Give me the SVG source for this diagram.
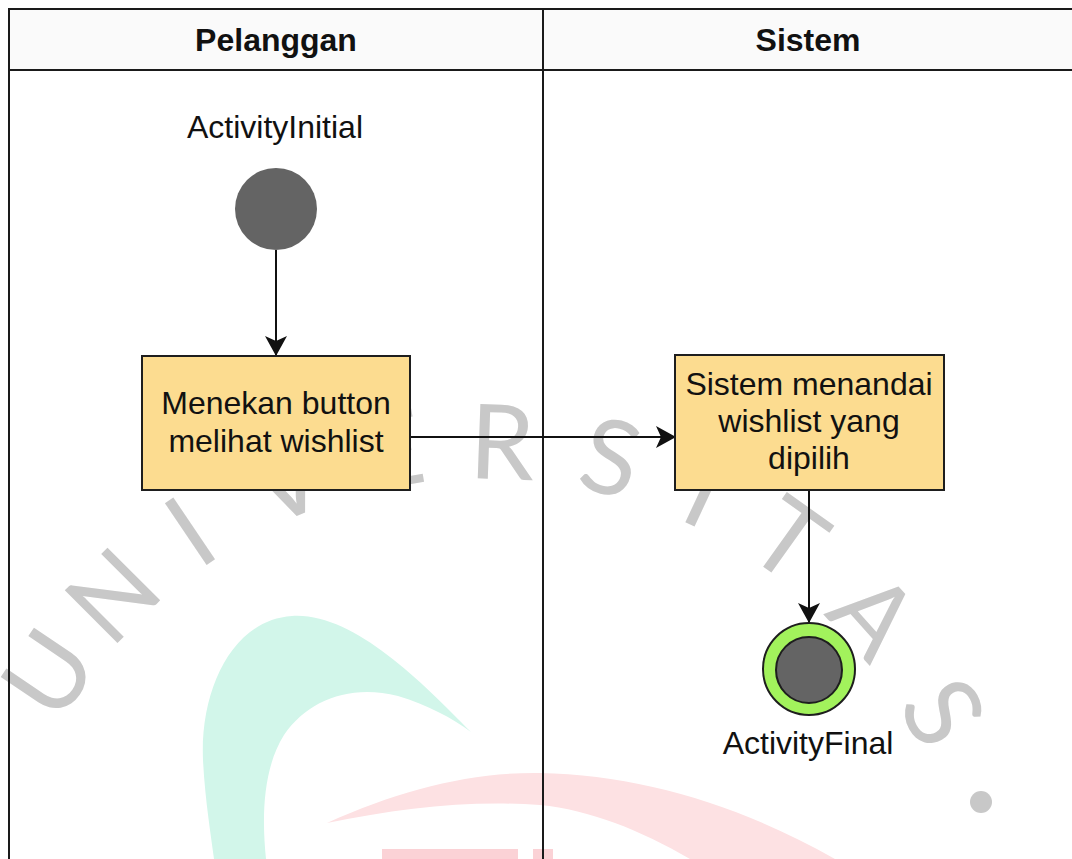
<svg xmlns="http://www.w3.org/2000/svg" width="1072" height="859" viewBox="0 0 1072 859">
  <style>
    .lane { fill: none; stroke: #1a1a1a; stroke-width: 2; }
    .head { fill: #fafafa; stroke: none; }
    .title { font-family: "Liberation Sans", Arial, sans-serif; font-size: 32px; font-weight: bold; fill: #111; text-anchor: middle; }
    .label { font-family: "Liberation Sans", Arial, sans-serif; font-size: 32px; fill: #111; text-anchor: middle; }
    .action { fill: #fcdc90; stroke: #1e1e1e; stroke-width: 2; }
    .edge { fill: none; stroke: #111; stroke-width: 2; }
    .wm { font-family: Lato, "Open Sans", sans-serif; font-size: 104px; font-weight: 400; fill: #c8c8c8; text-anchor: middle; }
  </style>
  <defs>
    <marker id="arrow" markerUnits="userSpaceOnUse" markerWidth="20" markerHeight="22" viewBox="0 0 20 22" refX="19" refY="11" orient="auto">
      <path d="M0,0 L20,11 L0,22 L5,11 Z" fill="#111"/>
    </marker>
  </defs>

  <rect x="0" y="0" width="1072" height="859" fill="#ffffff"/>

  <!-- background emblem -->
  <g id="emblem">
    <path d="M471,732 C420,680 352,612 292,616 C232,620 200,690 203,760 C205,800 211,835 214,859 L266,859 C262,820 262,770 284,735 C308,700 350,684 398,696 C428,705 452,718 471,732 Z" fill="#d2f6ea"/>
    <path d="M327,823 C400,790 470,772 540,773 C640,775 740,805 835,859 L690,859 C640,830 590,810 540,805 C470,800 400,808 327,823 Z" fill="#fde1e3"/>
    <rect x="382" y="849" width="136" height="10" fill="#fbd2d6"/>
    <rect x="533" y="849" width="20" height="10" fill="#fbd2d6"/>
    <g class="wm">
      <text x="483.8" y="478.8" transform="rotate(-56 483.8 966.8)">U</text>
      <text x="483.8" y="478.8" transform="rotate(-45 483.8 966.8)">N</text>
      <text x="483.8" y="478.8" transform="rotate(-34 483.8 966.8)">I</text>
      <text x="483.8" y="478.8" transform="rotate(-22 483.8 966.8)">V</text>
      <text x="483.8" y="478.8" transform="rotate(-10 483.8 966.8)">E</text>
      <text x="483.8" y="478.8" transform="rotate(2 483.8 966.8)">R</text>
      <text x="483.8" y="478.8" transform="rotate(14 483.8 966.8)">S</text>
      <text x="483.8" y="478.8" transform="rotate(25 483.8 966.8)">I</text>
      <text x="483.8" y="478.8" transform="rotate(35.5 483.8 966.8)">T</text>
      <text x="483.8" y="478.8" transform="rotate(48 483.8 966.8)">A</text>
      <text x="483.8" y="478.8" transform="rotate(61 483.8 966.8)">S</text>
    </g>
    <circle cx="981" cy="802" r="11" fill="#c8c8c8"/>
  </g>

  <!-- swimlane pool -->
  <g id="pool">
    <rect class="head" x="10" y="10" width="1070" height="60"/>
    <path class="lane" d="M1080,9 L9,9 L9,870"/>
    <path class="lane" d="M9,70 L1080,70"/>
    <path class="lane" d="M543,9 L543,870"/>
    <text class="title" x="276" y="51">Pelanggan</text>
    <text class="title" x="808" y="51">Sistem</text>
  </g>

  <!-- connectors -->
  <g id="edges">
    <path class="edge" d="M276,250 L276,355" marker-end="url(#arrow)"/>
    <path class="edge" d="M410,437 L675,437" marker-end="url(#arrow)"/>
    <path class="edge" d="M809,490 L809,622" marker-end="url(#arrow)"/>
  </g>

  <g id="initial">
    <text class="label" x="275" y="138">ActivityInitial</text>
    <circle cx="276" cy="209" r="41" fill="#646464"/>
  </g>

  <g id="menekan">
    <rect class="action" x="142" y="356" width="268" height="134"/>
    <text class="label" x="276" y="414">Menekan button</text>
    <text class="label" x="276" y="452">melihat wishlist</text>
  </g>

  <g id="menandai">
    <rect class="action" x="675" y="355" width="269" height="135"/>
    <text class="label" x="809" y="395">Sistem menandai</text>
    <text class="label" x="809" y="432">wishlist yang</text>
    <text class="label" x="809" y="469">dipilih</text>
  </g>

  <g id="final">
    <circle cx="809" cy="669" r="46" fill="#a2f25c" stroke="#1e1e1e" stroke-width="2"/>
    <circle cx="809" cy="670" r="33" fill="#646464" stroke="#1e1e1e" stroke-width="2"/>
    <text class="label" x="808" y="754">ActivityFinal</text>
  </g>
</svg>
